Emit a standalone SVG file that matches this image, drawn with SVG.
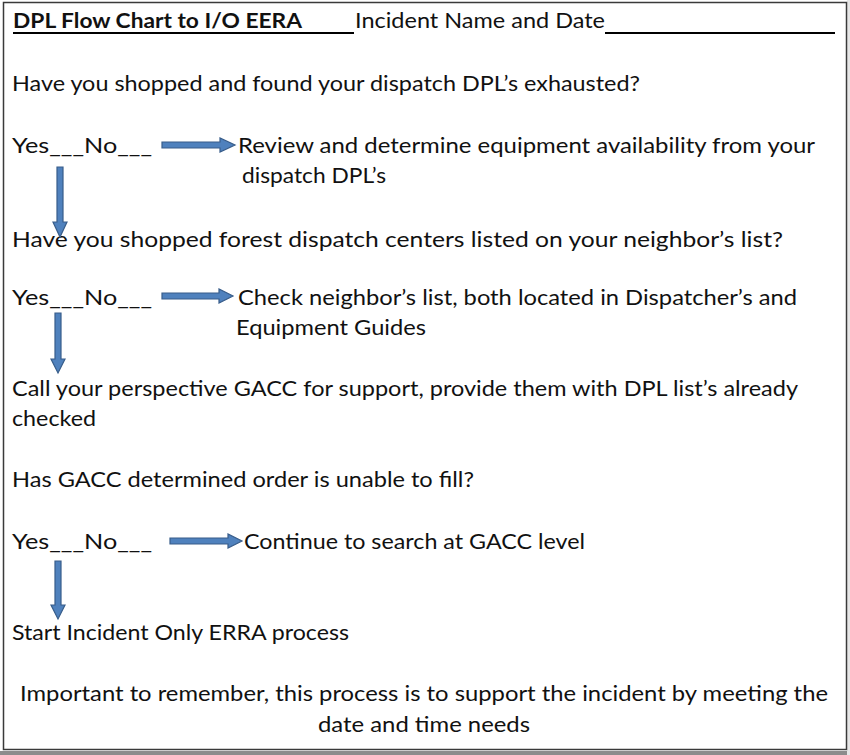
<svg xmlns="http://www.w3.org/2000/svg" width="850" height="755" viewBox="0 0 850 755">
<defs>
<style>
text{font-family:Lato,"Open Sans","Liberation Sans",sans-serif;font-size:21.5px;fill:#111}
.b{font-weight:bold}
.arr{fill:#4f81bd;stroke:#385d8a;stroke-width:1.2}
.ul{stroke:#000;stroke-width:2}
</style>
</defs>
<rect x="0" y="0" width="850" height="755" fill="#fff"/>
<rect x="0" y="751" width="850" height="4" fill="#8c8c8c"/>
<rect x="847" y="0" width="3" height="755" fill="#e6e6e6"/>
<rect x="3.5" y="2.5" width="843" height="747" fill="#fff" stroke="#3a3a3a" stroke-width="1.5"/>
<g id="header">
<text class="b" x="13" y="28" textLength="289" lengthAdjust="spacingAndGlyphs">DPL Flow Chart to I/O EERA</text>
<line class="ul" x1="13" y1="33" x2="354" y2="33"/>
<text x="355" y="28" textLength="250" lengthAdjust="spacingAndGlyphs">Incident Name and Date</text>
<line class="ul" x1="605" y1="33" x2="835" y2="33"/>
</g>
<g id="q1"><text x="12" y="91" textLength="628" lengthAdjust="spacingAndGlyphs">Have you shopped and found your dispatch DPL’s exhausted?</text></g>
<g id="yn1"><text x="12" y="153" textLength="140" lengthAdjust="spacingAndGlyphs">Yes___No___</text></g>
<g id="r1"><text x="238" y="153" textLength="577" lengthAdjust="spacingAndGlyphs">Review and determine equipment availability from your</text>
<text x="242" y="183" textLength="144" lengthAdjust="spacingAndGlyphs">dispatch DPL’s</text></g>
<g id="q2"><text x="12" y="247" textLength="771" lengthAdjust="spacingAndGlyphs">Have you shopped forest dispatch centers listed on your neighbor’s list?</text></g>
<g id="yn2"><text x="12" y="305" textLength="140" lengthAdjust="spacingAndGlyphs">Yes___No___</text></g>
<g id="r2"><text x="238" y="305" textLength="559" lengthAdjust="spacingAndGlyphs">Check neighbor’s list, both located in Dispatcher’s and</text>
<text x="236" y="335" textLength="190" lengthAdjust="spacingAndGlyphs">Equipment Guides</text></g>
<g id="s3"><text x="12" y="396" textLength="786" lengthAdjust="spacingAndGlyphs">Call your perspective GACC for support, provide them with DPL list’s already</text>
<text x="12" y="426" textLength="84" lengthAdjust="spacingAndGlyphs">checked</text></g>
<g id="q3"><text x="12" y="487" textLength="462" lengthAdjust="spacingAndGlyphs">Has GACC determined order is unable to fill?</text></g>
<g id="yn3"><text x="12" y="549" textLength="140" lengthAdjust="spacingAndGlyphs">Yes___No___</text></g>
<g id="r3"><text x="244" y="549" textLength="341" lengthAdjust="spacingAndGlyphs">Continue to search at GACC level</text></g>
<g id="s4"><text x="12" y="640" textLength="337" lengthAdjust="spacingAndGlyphs">Start Incident Only ERRA process</text></g>
<g id="note"><text x="424" y="701" text-anchor="middle" textLength="808" lengthAdjust="spacingAndGlyphs">Important to remember, this process is to support the incident by meeting the</text>
<text x="424" y="732" text-anchor="middle" textLength="212" lengthAdjust="spacingAndGlyphs">date and time needs</text></g>
<g id="connectors">
<path class="arr" d="M162,142 H220 V138 L235,145 L220,152 V148 H162 Z"/>
<path class="arr" d="M57,167 H63 V222 H67 L60,237 L53,222 H57 Z"/>
<path class="arr" d="M162,293 H219 V289 L233,296 L219,303 V299 H162 Z"/>
<path class="arr" d="M55,313 H61 V359 H65 L58,373 L51,359 H55 Z"/>
<path class="arr" d="M170,538 H228 V534 L242,541 L228,548 V544 H170 Z"/>
<path class="arr" d="M55,561 H61 V605 H65 L58,619 L51,605 H55 Z"/>
</g>
</svg>
